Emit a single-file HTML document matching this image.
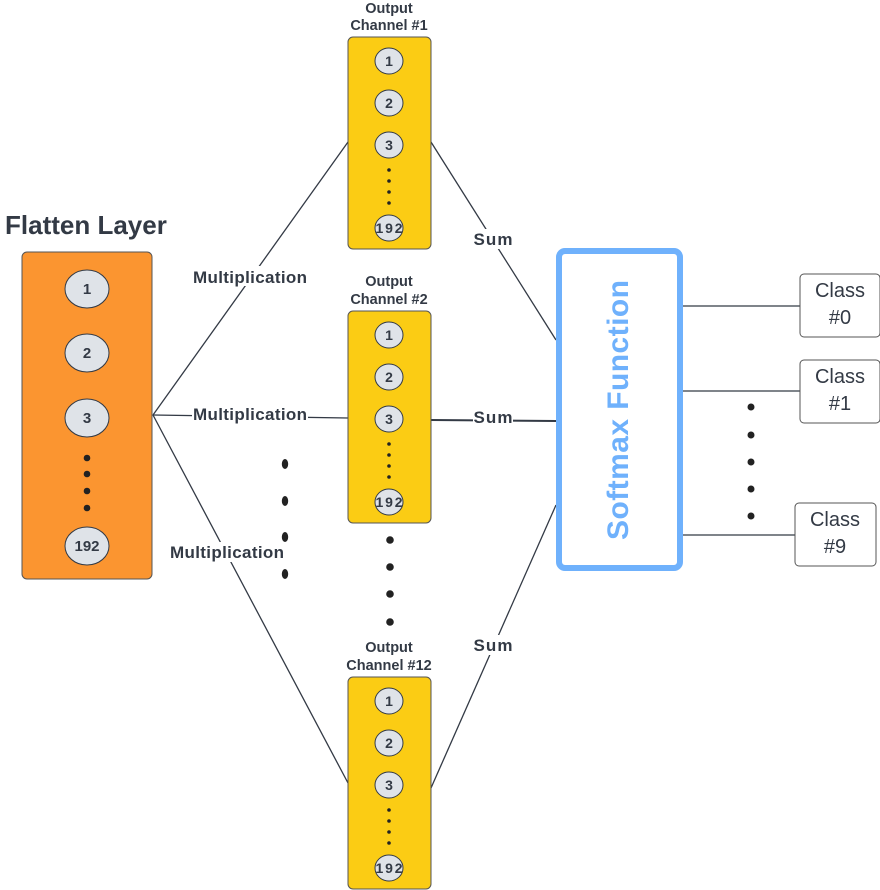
<!DOCTYPE html>
<html><head><meta charset="utf-8"><style>
html,body{margin:0;padding:0;background:#fff;width:880px;height:890px;overflow:hidden}
svg{display:block;font-family:"Liberation Sans",sans-serif}
.b{font-weight:bold;fill:#333a45}
</style></head><body>
<svg width="880" height="890" viewBox="0 0 880 890" xmlns="http://www.w3.org/2000/svg">
<g stroke="#333a45" stroke-width="1.3" fill="none">
<line x1="153" y1="415" x2="348" y2="142"/>
<line x1="153" y1="415" x2="348" y2="418"/>
<line x1="153" y1="415" x2="348" y2="783"/>
<line x1="431" y1="142" x2="556" y2="340"/>
<line x1="431" y1="420" x2="556" y2="421" stroke-width="2"/>
<line x1="431" y1="788" x2="556" y2="505"/>
<line x1="682" y1="306" x2="800" y2="306"/>
<line x1="682" y1="391" x2="800" y2="391"/>
<line x1="680" y1="535" x2="795" y2="535"/>
</g>
<g fill="#fff">
<rect x="192" y="266" width="116" height="20"/>
<rect x="192" y="404" width="116" height="20"/>
<rect x="169" y="542" width="116" height="20"/>
<rect x="473" y="229" width="40" height="20"/>
<rect x="473" y="407" width="40" height="20"/>
<rect x="473" y="635" width="40" height="20"/>
</g>
<g class="b" font-size="17" text-anchor="middle">
<text x="250" y="283" textLength="114">Multiplication</text>
<text x="250" y="420" textLength="114">Multiplication</text>
<text x="227" y="558" textLength="114">Multiplication</text>
<text x="493" y="245" textLength="39">Sum</text>
<text x="493" y="423" textLength="39">Sum</text>
<text x="493" y="651" textLength="39">Sum</text>
</g>
<text x="5" y="234" class="b" font-size="26">Flatten Layer</text>
<rect x="22" y="252" width="130" height="327" rx="5" fill="#fb9530" stroke="#555" stroke-width="1"/>
<g fill="#dfe3e8" stroke="#333a45" stroke-width="1">
<ellipse cx="87" cy="289" rx="22" ry="19"/>
<ellipse cx="87" cy="353" rx="22" ry="19"/>
<ellipse cx="87" cy="418" rx="22" ry="19"/>
<ellipse cx="87" cy="546" rx="22" ry="19"/>
</g>
<g class="b" font-size="15" text-anchor="middle">
<text x="87" y="294">1</text><text x="87" y="358">2</text><text x="87" y="423">3</text><text x="87" y="551">192</text>
</g>
<g fill="#222">
<circle cx="87" cy="458" r="3.3"/><circle cx="87" cy="474" r="3.3"/><circle cx="87" cy="491" r="3.3"/><circle cx="87" cy="508" r="3.3"/>
<ellipse cx="285" cy="464" rx="3.2" ry="5"/><ellipse cx="285" cy="501" rx="3.2" ry="5"/><ellipse cx="285" cy="537" rx="3.2" ry="5"/><ellipse cx="285" cy="574" rx="3.2" ry="5"/>
<circle cx="390" cy="540" r="3.8"/><circle cx="390" cy="567" r="3.8"/><circle cx="390" cy="594" r="3.8"/><circle cx="390" cy="622" r="3.8"/>
<circle cx="751" cy="407" r="3.5"/><circle cx="751" cy="435" r="3.5"/><circle cx="751" cy="462" r="3.5"/><circle cx="751" cy="489" r="3.5"/><circle cx="751" cy="516" r="3.5"/>
</g>
<g id="ch">
<rect x="348" y="37" width="83" height="212" rx="5" fill="#fbcc14" stroke="#555" stroke-width="1"/>
<g fill="#dfe3e8" stroke="#333a45" stroke-width="1">
<ellipse cx="389" cy="61" rx="14" ry="13"/><ellipse cx="389" cy="103" rx="14" ry="13"/><ellipse cx="389" cy="145" rx="14" ry="13"/><ellipse cx="389" cy="228" rx="14" ry="13"/>
</g>
<g fill="#222"><circle cx="389" cy="170" r="1.8"/><circle cx="389" cy="181" r="1.8"/><circle cx="389" cy="192" r="1.8"/><circle cx="389" cy="203" r="1.8"/></g>
<g class="b" font-size="14" text-anchor="middle"><text x="389" y="66">1</text><text x="389" y="108">2</text><text x="389" y="150">3</text><text x="389" y="233" textLength="27">192</text></g>
</g>
<use href="#ch" y="274"/>
<use href="#ch" y="640"/>
<g class="b" font-size="14.5" text-anchor="middle">
<text x="389" y="13">Output</text><text x="389" y="30">Channel #1</text>
<text x="389" y="286">Output</text><text x="389" y="304">Channel #2</text>
<text x="389" y="652">Output</text><text x="389" y="670">Channel #12</text>
</g>
<rect x="559" y="251" width="121" height="317" rx="6" fill="#fff" stroke="#6fb1fc" stroke-width="6"/>
<text transform="translate(628,410) rotate(-90)" text-anchor="middle" font-size="30" font-weight="bold" fill="#6fb1fc" textLength="260">Softmax Function</text>
<g fill="#fff" stroke="#555" stroke-width="1">
<rect x="800" y="274" width="80" height="63" rx="4"/>
<rect x="800" y="360" width="80" height="63" rx="4"/>
<rect x="795" y="503" width="81" height="63" rx="4"/>
</g>
<g font-size="20" fill="#333a45" text-anchor="middle">
<text x="840" y="297">Class</text><text x="840" y="324">#0</text>
<text x="840" y="383">Class</text><text x="840" y="410">#1</text>
<text x="835" y="526">Class</text><text x="835" y="553">#9</text>
</g>
</svg>
</body></html>
